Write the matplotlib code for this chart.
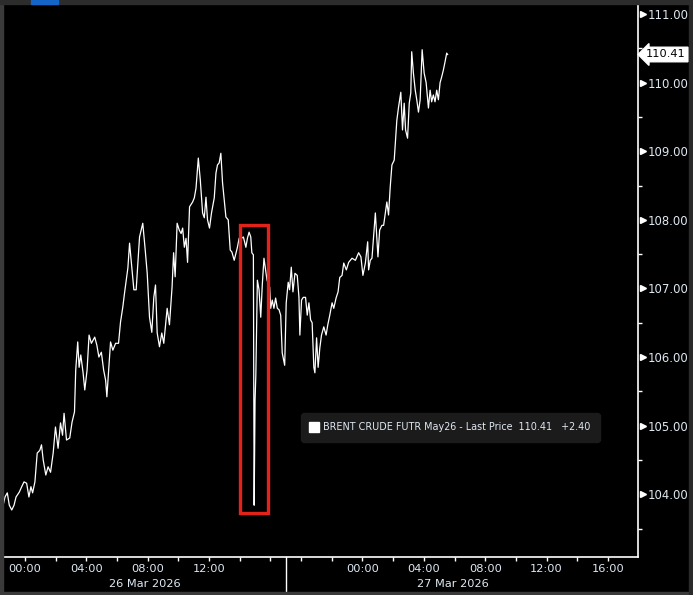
import numpy as np
import matplotlib
matplotlib.use("Agg")
import matplotlib.pyplot as plt
import matplotlib.transforms as mtransforms
from matplotlib.patches import Rectangle
from matplotlib.lines import Line2D
from matplotlib.ticker import MultipleLocator, FixedLocator, FormatStrFormatter

# ── data ─────────────────────────────────────────────────────────────────
# x = trading hours on the chart's time axis: 0 = 26 Mar 00:00,
# 22 = 27 Mar 00:00 (the overnight break is squeezed out like on the terminal)
hours = [
    -1.45, -1.30, -1.15, -1.02, -0.86, -0.71, -0.58, -0.37, -0.21, -0.06,
    0.11, 0.26, 0.39, 0.50, 0.65, 0.80, 0.97, 1.08, 1.19, 1.36,
    1.51, 1.67, 1.84, 1.99, 2.16, 2.32, 2.45, 2.55, 2.71, 2.92,
    3.07, 3.23, 3.31, 3.44, 3.53, 3.64, 3.79, 3.90, 4.05, 4.18,
    4.33, 4.55, 4.69, 4.82, 4.98, 5.13, 5.26, 5.34, 5.58, 5.73,
    5.91, 6.10, 6.23, 6.38, 6.49, 6.71, 6.82, 6.97, 7.10, 7.25,
    7.47, 7.68, 7.84, 7.97, 8.12, 8.27, 8.40, 8.51, 8.62, 8.77,
    8.92, 9.05, 9.27, 9.42, 9.59, 9.69, 9.79, 9.92, 10.06, 10.18,
    10.28, 10.39, 10.50, 10.60, 10.73, 10.93, 11.04, 11.15, 11.30, 11.43,
    11.58, 11.69, 11.80, 11.90, 12.03, 12.16, 12.34, 12.45, 12.55, 12.66,
    12.77, 12.88, 13.10, 13.25, 13.38, 13.49, 13.64, 13.85, 13.96, 14.11,
    14.24, 14.40, 14.50, 14.61, 14.72, 14.79, 14.89, 14.94, 15.00, 15.05,
    15.15, 15.26, 15.37, 15.47, 15.58, 15.78, 15.95, 16.02, 16.12, 16.23,
    16.34, 16.45, 16.56, 16.67, 16.77, 16.93, 17.03, 17.16, 17.25, 17.36,
    17.47, 17.60, 17.75, 17.86, 17.92, 18.03, 18.14, 18.29, 18.40, 18.51,
    18.62, 18.72, 18.83, 18.90, 19.01, 19.11, 19.22, 19.33, 19.48, 19.63,
    19.74, 19.87, 20.02, 20.13, 20.28, 20.41, 20.52, 20.67, 20.78, 20.95,
    21.10, 21.32, 21.54, 21.75, 21.90, 22.03, 22.19, 22.34, 22.40, 22.51,
    22.62, 22.84, 22.94, 23.01, 23.12, 23.27, 23.38, 23.49, 23.59, 23.70,
    23.81, 23.92, 24.07, 24.24, 24.35, 24.50, 24.61, 24.72, 24.81, 24.94,
    25.05, 25.15, 25.21, 25.32, 25.44, 25.54, 25.65, 25.76, 25.89, 26.02,
    26.15, 26.30, 26.41, 26.51, 26.62, 26.73, 26.84, 26.95, 27.06, 27.16,
    27.27, 27.38, 27.49, 27.55,
]
prices = [
    103.81, 103.96, 104.02, 103.84, 103.77, 103.84, 103.96, 104.03, 104.11, 104.18,
    104.16, 103.96, 104.11, 104.02, 104.18, 104.60, 104.64, 104.72, 104.50, 104.28,
    104.40, 104.32, 104.60, 104.98, 104.67, 105.04, 104.86, 105.18, 104.79, 104.82,
    105.05, 105.20, 105.81, 106.22, 105.85, 106.03, 105.77, 105.52, 105.81, 106.32,
    106.20, 106.29, 106.17, 106.00, 106.07, 105.81, 105.66, 105.42, 106.22, 106.10,
    106.20, 106.20, 106.51, 106.73, 106.93, 107.30, 107.66, 107.30, 106.98, 106.98,
    107.75, 107.95, 107.56, 107.22, 106.58, 106.36, 106.87, 107.05, 106.35, 106.15,
    106.35, 106.20, 106.71, 106.47, 107.02, 107.52, 107.17, 107.95, 107.85, 107.80,
    107.88, 107.60, 107.73, 107.38, 108.19, 108.26, 108.32, 108.46, 108.90, 108.58,
    108.10, 108.03, 108.33, 108.00, 107.88, 108.10, 108.32, 108.68, 108.80, 108.83,
    108.97, 108.54, 108.04, 108.00, 107.56, 107.53, 107.41, 107.60, 107.73, 107.73,
    107.75, 107.60, 107.73, 107.82, 107.75, 107.52, 107.49, 103.84, 105.37, 105.74,
    107.12, 106.98, 106.58, 107.05, 107.44, 107.12, 107.02, 106.71, 106.83, 106.71,
    106.86, 106.71, 106.69, 106.61, 106.06, 105.88, 106.79, 107.09, 106.98, 107.31,
    106.95, 107.22, 107.19, 106.87, 106.32, 106.83, 106.87, 106.87, 106.61, 106.79,
    106.54, 106.50, 105.85, 105.77, 106.28, 105.85, 106.13, 106.32, 106.44, 106.32,
    106.47, 106.61, 106.79, 106.71, 106.86, 106.95, 107.16, 107.19, 107.37, 107.27,
    107.38, 107.44, 107.41, 107.52, 107.46, 107.19, 107.37, 107.68, 107.27, 107.41,
    107.44, 108.10, 107.71, 107.46, 107.85, 107.92, 107.92, 108.10, 108.26, 108.07,
    108.48, 108.80, 108.87, 109.45, 109.64, 109.86, 109.31, 109.70, 109.31, 109.19,
    109.70, 109.85, 110.45, 110.14, 109.89, 109.75, 109.57, 109.75, 110.48, 110.14,
    110.00, 109.63, 109.89, 109.72, 109.82, 109.72, 109.89, 109.75, 110.00, 110.08,
    110.18, 110.30, 110.43, 110.41,
]

series_name = "BRENT CRUDE FUTR May26"
net_change = 2.40

x_tick_pos = [0, 2, 4, 6, 8, 10, 12, 14, 16,
              18, 20, 22, 24, 26, 28, 30, 32, 34, 36, 38]
x_tick_lbl = ["00:00", "", "04:00", "", "08:00", "", "12:00", "", "",
              "", "", "00:00", "", "04:00", "", "08:00", "", "12:00", "", "16:00"]
day_names = ["26 Mar 2026", "27 Mar 2026"]
day_spans = [(-1.43, 17.0), (17.0, 38.75)]
day_break = 17.0

# window boxed in red (the flash crash)
hilite_window = (14.0, 15.85)

# ── style ────────────────────────────────────────────────────────────────
BG = "black"
FG = "#dfe8f2"
FRAME = "#3a3a3a"
plt.rcParams["font.family"] = ["DejaVu Sans"]

hours = np.array(hours)
prices = np.array(prices)
last_price = prices[-1]

fig = plt.figure(figsize=(6.93, 5.95), dpi=100, facecolor=BG)
ax = fig.add_axes([3 / 693, 38 / 595, 635 / 693, 553 / 595], facecolor=BG)

# terminal frame around the panel
fig.patches.append(Rectangle((0, 0), 3 / 693, 1, transform=fig.transFigure,
                             color=FRAME, zorder=0))
fig.patches.append(Rectangle((0, 0), 1, 3 / 595, transform=fig.transFigure,
                             color=FRAME, zorder=0))
fig.patches.append(Rectangle((689 / 693, 0), 4 / 693, 1, transform=fig.transFigure,
                             color="#2a2a2a", zorder=0))
fig.patches.append(Rectangle((0, 1 - 4 / 595), 1, 4 / 595, transform=fig.transFigure,
                             color="#2c2c2c", zorder=0))
fig.patches.append(Rectangle((31 / 693, 1 - 4 / 595), 27 / 693, 4 / 595,
                             transform=fig.transFigure, color="#1565c8", zorder=1))

# price line
ax.plot(hours, prices, color="white", lw=0.9, solid_joinstyle="round", zorder=3)

# red box around the spike
in_win = (hours >= hilite_window[0]) & (hours <= hilite_window[1])
lo, hi = prices[in_win].min(), prices[in_win].max()
ax.add_patch(Rectangle((hilite_window[0], lo - 0.11),
                       hilite_window[1] - hilite_window[0], hi - lo + 0.21,
                       fill=False, ec="#e2231a", lw=2.4, zorder=4))

# axes limits / spines
ax.set_xlim(-1.43, 39.96)
ax.set_ylim(103.085, 111.146)
for s in ["left", "top"]:
    ax.spines[s].set_visible(False)
for s in ["right", "bottom"]:
    ax.spines[s].set_color("white")
    ax.spines[s].set_linewidth(1.2)

# y axis on the right with flag markers
ax.yaxis.tick_right()
ax.yaxis.set_major_locator(MultipleLocator(1))
ax.yaxis.set_minor_locator(MultipleLocator(0.5))
ax.yaxis.set_major_formatter(FormatStrFormatter("%.2f"))
ax.tick_params(axis="y", which="major", length=0, pad=7, labelsize=8.4,
               labelcolor=FG)
ax.tick_params(axis="y", which="minor", length=3, width=1, color="white",
               direction="out")
yb = mtransforms.blended_transform_factory(ax.transAxes, ax.transData)
yt = [v for v in ax.get_yticks() if 103.085 <= v <= 111.146]
ax.plot([1 + 4.5 / 635] * len(yt), yt, ls="none", marker=">", ms=4.5,
        color="white", transform=yb, clip_on=False)

# last price tag
ax.text(1 + 8 / 635, last_price, f"{last_price:.2f}", transform=yb,
        ha="left", va="center", fontsize=8.2, color="black",
        bbox=dict(boxstyle="larrow,pad=0.2", fc="white", ec="white"))

# x axis
ax.xaxis.set_major_locator(FixedLocator(x_tick_pos))
ax.set_xticklabels(x_tick_lbl)
ax.tick_params(axis="x", length=3, width=1, color="white", direction="out",
               pad=2, labelsize=8.2, labelcolor=FG)

xb = mtransforms.blended_transform_factory(ax.transData, ax.transAxes)
for name, (a, b) in zip(day_names, day_spans):
    ax.text((a + b) / 2, -0.049, name, transform=xb, ha="center", va="center",
            fontsize=8.2, color=FG, clip_on=False)
ax.plot([day_break, day_break], [0, -0.064], transform=xb, color="white",
        lw=1, clip_on=False)

# legend
handle = Line2D([], [], ls="none", marker="s", ms=6.5, color="white")
label = f"{series_name} - Last Price  {last_price:.2f}   {net_change:+.2f}"
leg = ax.legend([handle], [label], loc="lower right",
                bbox_to_anchor=(0.937, 0.2116), borderaxespad=0,
                fontsize=6.9, labelcolor=FG, facecolor="#1b1b1b",
                edgecolor="#1b1b1b", framealpha=1, handlelength=0.8,
                handletextpad=0.5, borderpad=0.8, fancybox=True)
leg.get_frame().set_boxstyle("round,pad=0.2,rounding_size=0.3")

fig.savefig("out.png", dpi=100, facecolor=BG)
